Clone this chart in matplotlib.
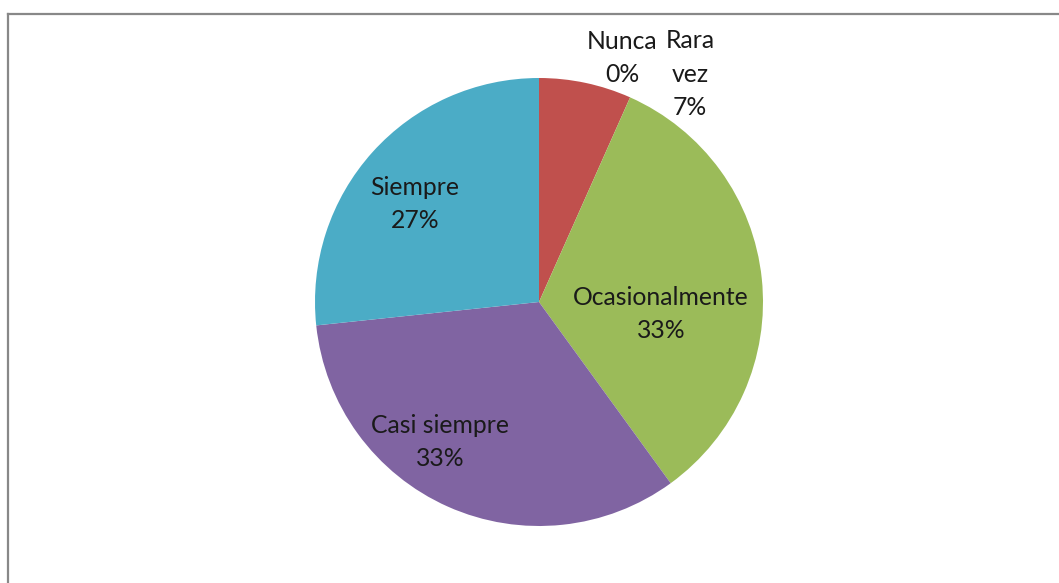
import matplotlib.pyplot as plt
from matplotlib.lines import Line2D

labels = ["Nunca", "Rara\nvez", "Ocasionalmente", "Casi siempre", "Siempre"]
counts = [0, 2, 10, 10, 8]
colors = ["#4F81BD", "#C0504D", "#9BBB59", "#8064A2", "#4BACC6"]

# label anchor positions in pixels (centre of text block), Excel-style manual placement
label_px = [(622, 58), (690, 74), (661, 314), (440, 442), (415, 204)]

W, H = 1059, 583
cx, cy, r = 539, 302, 224

fig = plt.figure(figsize=(W / 100, H / 100), dpi=100)
ax = fig.add_axes([0, 0, 1, 1])

ax.pie(counts, colors=colors, startangle=90, counterclock=False,
       radius=1, wedgeprops=dict(linewidth=0))
ax.set_xlim(-cx / r, (W - cx) / r)
ax.set_ylim((cy - H) / r, cy / r)
ax.set_aspect("auto")
ax.axis("off")

total = sum(counts)
for name, n, (px, py) in zip(labels, counts, label_px):
    pct = f"{round(100 * n / total)}%"
    ax.text((px - cx) / r, (cy - py) / r, f"{name}\n{pct}",
            ha="center", va="center", fontsize=17.8, family="Lato",
            color="#1a1a1a", linespacing=1.55)

# chart frame: top and left edges only
fig.add_artist(Line2D([8 / W, 1], [1 - 14 / H, 1 - 14 / H], color="#888888", lw=1.6))
fig.add_artist(Line2D([8 / W, 8 / W], [0, 1 - 14 / H], color="#888888", lw=1.6))

plt.savefig("out.png", dpi=100)
